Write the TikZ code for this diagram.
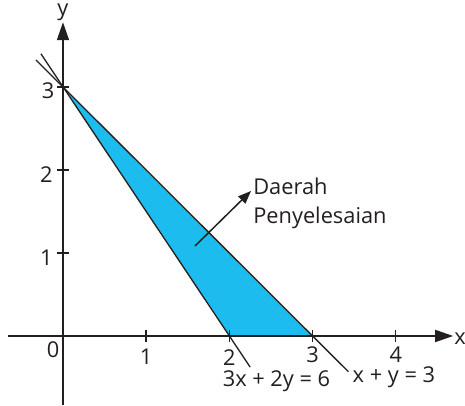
\documentclass[tikz,border=0pt]{standalone}
\usepackage{fontspec}
\setmainfont{Open Sans}
\usetikzlibrary{arrows.meta}
\definecolor{regioncol}{RGB}{28,189,238}
\definecolor{inkcol}{RGB}{35,31,32}
\tikzset{
  axisline/.style={draw=inkcol, line width=1.7pt, -{Triangle[length=18pt,width=12pt]}},
  graphline/.style={draw=inkcol, line width=1.3pt},
  tickmark/.style={draw=inkcol, line width=1.4pt},
  lbl/.style={inner sep=0pt, text=inkcol, font=\fontsize{21.8}{26}\selectfont},
  pointer/.style={draw=inkcol, line width=1.5pt, -{Triangle[length=13pt,width=10pt]}}
}
\begin{document}
\begin{tikzpicture}[x=83.2pt,y=83pt]
\useasboundingbox (-0.757,-0.843) rectangle (4.832,4.048);
% named points
\coordinate (O) at (0,0);
\coordinate (A) at (0,3);
\coordinate (B) at (2,0);
\coordinate (C) at (3,0);
\coordinate (xs) at (-0.66,0);
\coordinate (xe) at (4.69,0);
\coordinate (ys) at (0,-0.83);
\coordinate (ye) at (0,3.78);
\coordinate (l1s) at (-0.265,3.4);
\coordinate (l1e) at (2.25,-0.375);
\coordinate (l2s) at (-0.325,3.325);
\coordinate (l2e) at (3.43,-0.43);
\coordinate (ps) at (1.587,1.084);
\coordinate (pe) at (2.26,1.747);
% region
\fill[regioncol] (A) -- (B) -- (C) -- cycle;
% lines
\draw[graphline] (l1s) -- (l1e);
\draw[graphline] (l2s) -- (l2e);
% axes
\draw[axisline] (xs) -- (xe);
\draw[axisline] (ys) -- (ye);
% ticks
\foreach \i in {1,2,3,4} \draw[tickmark] (\i,-0.072) -- (\i,0.072);
\foreach \j in {1,2,3} \draw[tickmark] (-0.075,\j) -- (0.075,\j);
% labels
\node[lbl] (xl) at (4.772,-0.036) {x};
\node[lbl] (yl) at (0,3.90) {y};
\node[lbl] (n0) at (-0.12,-0.17) {0};
\node[lbl] (nx1) at (1,-0.255) {1};
\node[lbl] (nx2) at (2,-0.255) {2};
\node[lbl] (nx3) at (3,-0.22) {3};
\node[lbl] (nx4) at (4,-0.22) {4};
\node[lbl] (ny1) at (-0.2,0.94) {1};
\node[lbl] (ny2) at (-0.2,1.94) {2};
\node[lbl] (ny3) at (-0.18,2.96) {3};
\node[lbl] (eq1) at (2.566,-0.542) {3x + 2y = 6};
\node[lbl] (eq2) at (3.978,-0.50) {x + y = 3};
\node[lbl, anchor=base west] (reg1) at (2.285,1.707) {Daerah};
\node[lbl, anchor=base west] (reg2) at (2.285,1.357) {Penyelesaian};
\draw[pointer] (ps) -- (pe);
\end{tikzpicture}
\end{document}
